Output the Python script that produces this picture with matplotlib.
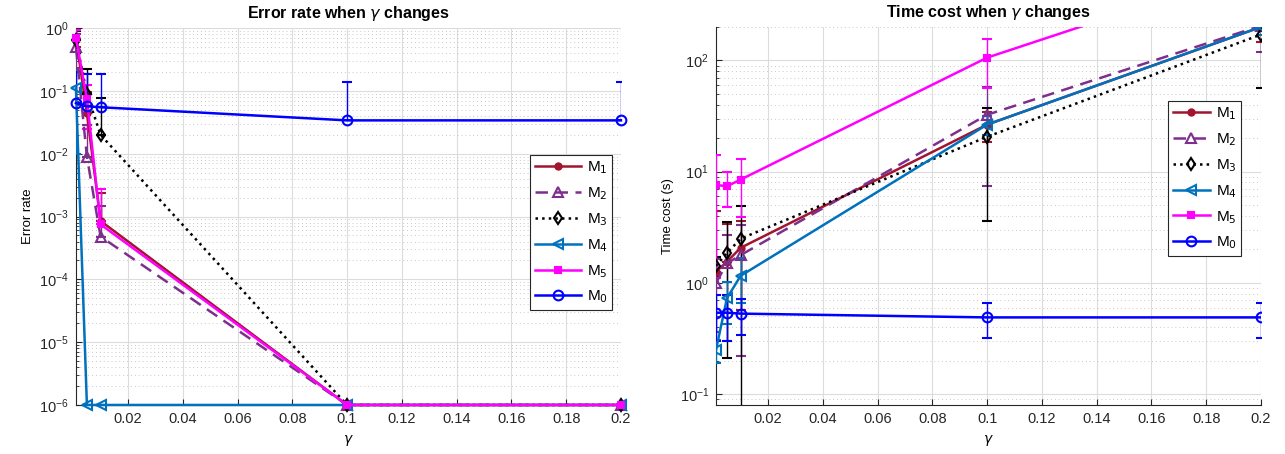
import matplotlib
matplotlib.use("Agg")
import matplotlib.pyplot as plt
from matplotlib.ticker import LogLocator, NullFormatter

plt.rcParams['font.family'] = ['Liberation Sans', 'DejaVu Sans']
plt.rcParams['font.size'] = 10

# gamma values (x axis)
gamma = [0.001, 0.005, 0.01, 0.1, 0.2]
xticks = [0.02, 0.04, 0.06, 0.08, 0.1, 0.12, 0.14, 0.16, 0.18, 0.2]
xtick_labels = ['0.02', '0.04', '0.06', '0.08', '0.1', '0.12', '0.14', '0.16', '0.18', '0.2']
yticks_err = [1e-6, 1e-5, 1e-4, 1e-3, 1e-2, 1e-1, 1]
yticks_time = [0.1, 1, 10, 100]

# error rate: mean and std
err_m1 = [0.7, 0.045, 8.5e-4, 1e-6, 1e-6]
err_m2 = [0.5, 0.009, 4.8e-4, 1e-6, 1e-6]
err_m3 = [0.65, 0.09, 0.02, 1e-6, 1e-6]
err_m4 = [0.11, 1e-6, 1e-6, 1e-6, 1e-6]
err_m5 = [0.7, 0.075, 7.5e-4, 1e-6, 1e-6]
err_m0 = [0.064, 0.057, 0.055, 0.034, 0.034]

sd_err_m1 = [0.2, 0.05, 1.5e-3, 0, 0]
sd_err_m2 = [0.3, 0.02, 1e-3, 0, 0]
sd_err_m3 = [0.25, 0.13, 0.057, 0, 0]
sd_err_m4 = [0.1, 0, 0, 0, 0]
sd_err_m5 = [0.25, 0.05, 2e-3, 0, 0]
sd_err_m0 = [0.14, 0.13, 0.13, 0.103, 0.103]

# time cost (s): mean and std
t_m1 = [1.26, 1.55, 2.07, 26.5, 200]
t_m2 = [1.0, 1.5, 1.78, 32.5, 205]
t_m3 = [1.42, 1.86, 2.5, 20.6, 171]
t_m4 = [0.25, 0.73, 1.16, 26.5, 200]
t_m5 = [7.6, 7.4, 8.5, 106, 690]
t_m0 = [0.54, 0.54, 0.53, 0.49, 0.49]

sd_t_m1 = [3.2, 1.85, 1.5, 8, 52]
sd_t_m2 = [0.64, 1.2, 1.56, 25, 87]
sd_t_m3 = [0.3, 1.65, 2.45, 17, 114]
sd_t_m4 = [0.06, 0.3, 0.5, 5, 30]
sd_t_m5 = [6.5, 2.6, 4.6, 49, 100]
sd_t_m0 = [0.24, 0.24, 0.19, 0.17, 0.17]

labels = ['M$_1$', 'M$_2$', 'M$_3$', 'M$_4$', 'M$_5$', 'M$_0$']

# style per method
styles = [
    dict(color='#A2142F', ls='-', marker='o', ms=4.5, mfc='#A2142F'),
    dict(color='#7E2F8E', ls=(0, (5, 3)), marker='^', ms=7, mfc='none'),
    dict(color='black', ls=':', marker='d', ms=6, mfc='none'),
    dict(color='#0072BD', ls='-', marker='<', ms=7, mfc='none'),
    dict(color='#FF00FF', ls='-', marker='s', ms=5, mfc='#FF00FF'),
    dict(color='#0000FF', ls='-', marker='o', ms=7, mfc='none'),
]


def draw(ax, means, sds, ylim, yticks, title, ylabel, leg_anchor, hlen, clip):
    handles = []
    for y, sd, st in zip(means, sds, styles):
        c = st['color']
        # like matlab on a log axis: a lower bar that would go below zero is dropped
        lower = [s if m - s > 0 else 0 for m, s in zip(y, sd)]
        cont = ax.errorbar(gamma, y, yerr=[lower, sd], color=c, ls=st['ls'], lw=1.8,
                           marker=st['marker'], ms=st['ms'], mfc=st['mfc'],
                           mec=c, mew=1.5, elinewidth=1, capsize=3.5,
                           capthick=1, zorder=3)
        if not clip:
            cont[0].set_clip_on(False)
        handles.append(cont[0])
    ax.set_yscale('log')
    ax.set_xlim(0.001, 0.2)
    ax.set_ylim(*ylim)
    ax.set_xticks(xticks)
    ax.set_xticklabels(xtick_labels)
    ax.set_yticks(yticks)
    ax.yaxis.set_minor_locator(LogLocator(base=10, subs=range(2, 10), numticks=20))
    ax.yaxis.set_minor_formatter(NullFormatter())
    ax.grid(True, which='major', color='#dcdcdc', lw=0.8)
    ax.grid(True, which='minor', axis='y', color='#c8c8c8', ls=(0, (1, 3)), lw=0.7)
    ax.set_axisbelow(True)
    for s in ['top', 'right']:
        ax.spines[s].set_visible(False)
    for s in ['left', 'bottom']:
        ax.spines[s].set_color('#262626')
    ax.tick_params(which='both', direction='in', colors='#262626', labelsize=10.5)
    ax.tick_params(which='major', length=4, pad=5)
    ax.tick_params(which='minor', length=2)
    ax.set_title(title, fontweight='bold', fontsize=11.5, pad=7)
    ax.set_ylabel(ylabel, fontsize=9.5)
    ax.set_xlabel(r'$\gamma$', fontsize=10, labelpad=5)
    leg = ax.legend(handles, labels, loc='upper right', bbox_to_anchor=leg_anchor,
                    fancybox=False, edgecolor='#262626', framealpha=1,
                    fontsize=11, handlelength=hlen, borderpad=0.3, labelspacing=0.6,
                    handletextpad=0.4)
    leg.get_frame().set_linewidth(0.8)


fig = plt.figure(figsize=(12.85, 4.54), dpi=100)
ax1 = fig.add_axes([0.0591, 0.108, 0.4241, 0.830])
ax2 = fig.add_axes([0.5572, 0.108, 0.4241, 0.8326])

draw(ax1, [err_m1, err_m2, err_m3, err_m4, err_m5, err_m0],
     [sd_err_m1, sd_err_m2, sd_err_m3, sd_err_m4, sd_err_m5, sd_err_m0],
     (1e-6, 1), yticks_err, r'Error rate when $\gamma$ changes', 'Error rate',
     (0.998, 0.684), 3, False)
draw(ax2, [t_m1, t_m2, t_m3, t_m4, t_m5, t_m0],
     [sd_t_m1, sd_t_m2, sd_t_m3, sd_t_m4, sd_t_m5, sd_t_m0],
     (0.08, 200), yticks_time, r'Time cost when $\gamma$ changes', 'Time cost (s)',
     (0.978, 0.825), 2.4, True)

fig.savefig('out.png', dpi=100)
